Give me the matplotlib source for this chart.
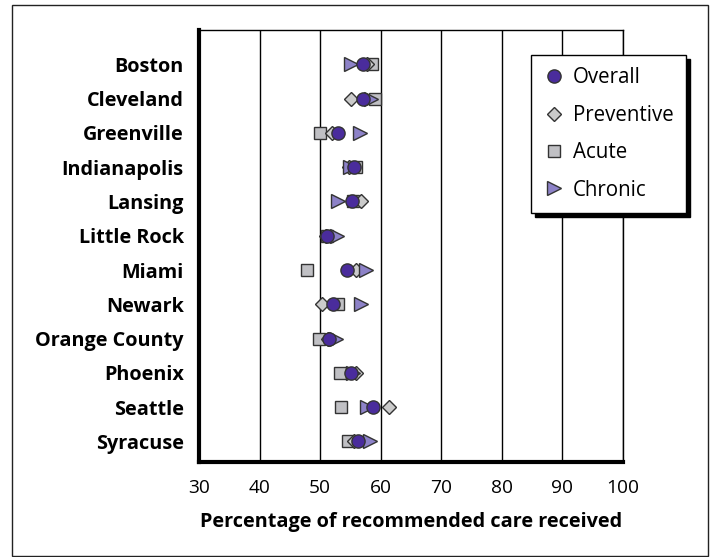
import matplotlib
matplotlib.use("Agg")
import matplotlib.pyplot as plt
from matplotlib.patches import Rectangle

# Data
cities = ["Boston", "Cleveland", "Greenville", "Indianapolis", "Lansing",
          "Little Rock", "Miami", "Newark", "Orange County", "Phoenix",
          "Seattle", "Syracuse"]
overall = [57.0, 57.0, 52.9, 55.6, 55.2, 51.2, 54.5, 52.2, 51.5, 55.1, 58.7, 56.2]
preventive = [57.8, 55.1, 52.0, 54.8, 56.8, 51.0, 56.0, 50.3, 51.3, 56.0, 61.3, 55.6]
acute = [58.6, 59.0, 50.0, 56.0, 55.5, 51.2, 47.8, 53.0, 49.8, 53.3, 53.4, 54.6]
chronic = [55.1, 58.4, 56.6, 55.0, 53.0, 52.8, 57.5, 56.8, 52.6, 55.5, 57.8, 58.2]
xticks = [30, 40, 50, 60, 70, 80, 90, 100]

plt.rcParams["font.family"] = ["Open Sans", "DejaVu Sans"]

fig = plt.figure(figsize=(7.17, 5.57), dpi=100)
ax = fig.add_axes([199 / 717, 95 / 557, 424 / 717, 432 / 557])

ypos = list(range(len(cities)))
edge = "#333333"
ax.plot(acute, ypos, "s", ms=8.5, mfc="#c0c0c4", mec=edge, mew=1, ls="none", label="Acute", zorder=3)
ax.plot(preventive, ypos, "D", ms=7.5, mfc="#cbcbcb", mec=edge, mew=1, ls="none", label="Preventive", zorder=4)
ax.plot(chronic, ypos, ">", ms=10, mfc="#8d82c8", mec=edge, mew=1, ls="none", label="Chronic", zorder=5)
ax.plot(overall, ypos, "o", ms=9.5, mfc="#4a2c9c", mec=edge, mew=1, ls="none", label="Overall", zorder=6)

ax.set_xlim(30, 100)
ax.set_ylim(11.6, -1.0)
ax.set_xticks(xticks)
ax.set_xticklabels([str(t) for t in xticks], fontsize=13.8)
ax.set_yticks(ypos)
ax.set_yticklabels(cities, fontsize=14.3, fontweight="bold")
ax.tick_params(axis="both", length=0)
ax.tick_params(axis="y", pad=11)
ax.tick_params(axis="x", pad=12)
ax.grid(axis="x", color="black", lw=1)
ax.set_axisbelow(True)
for side in ["left", "bottom"]:
    ax.spines[side].set_linewidth(3)
for side in ["top", "right"]:
    ax.spines[side].set_linewidth(1)
ax.set_xlabel("Percentage of recommended care received", fontsize=14.3,
              fontweight="bold", labelpad=11)

handles, labels = ax.get_legend_handles_labels()
order = [3, 1, 0, 2]
leg = ax.legend([handles[i] for i in order], [labels[i] for i in order],
                loc="upper left", bbox_to_anchor=((531 - 199) / 424, (462 - 55) / 432),
                borderaxespad=0, fontsize=14.8, frameon=True, fancybox=False,
                edgecolor="black", framealpha=1, labelspacing=0.8,
                handletextpad=0.45, borderpad=0.6, handlelength=1.0,
                shadow={"color": "black", "alpha": 1, "ox": 3, "oy": -3})
leg.get_frame().set_linewidth(1)

# outer frame around the whole figure
fig.patches.append(Rectangle((12 / 717, 1 / 557), 696 / 717, 551 / 557,
                             transform=fig.transFigure, fill=False,
                             edgecolor="#222222", lw=1))

fig.savefig("out.png", dpi=100)
